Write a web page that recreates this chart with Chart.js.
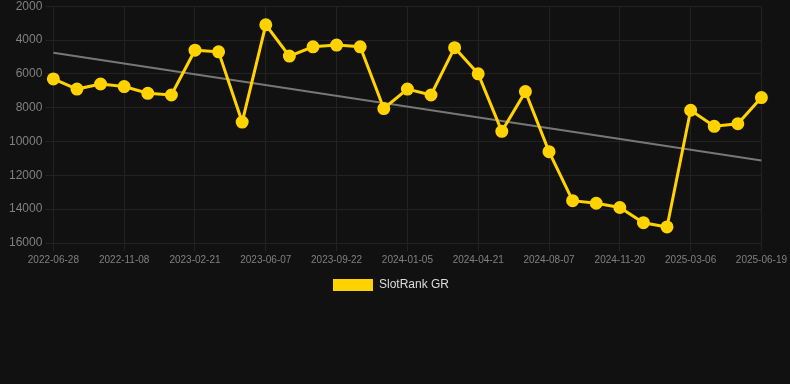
<!DOCTYPE html>
<html>
<head>
<meta charset="utf-8">
<script src="https://cdn.jsdelivr.net/npm/chart.js@4"></script>
<style>
    html, body { margin: 0; padding: 0; background: #111111; overflow: hidden; }
    #wrap { width: 790px; height: 305px; margin-top: -4px; }
</style>
</head>
<body>
<div id="wrap"><canvas id="rankChart"></canvas></div>
<script>
// Dates of each sample (only every 3rd is shown on the axis)
const dates = [
    '2022-06-28', '2022-08-11', '2022-09-24', '2022-11-08', '2022-12-13', '2023-01-17',
    '2023-02-21', '2023-03-28', '2023-05-03', '2023-06-07', '2023-07-13', '2023-08-17',
    '2023-09-22', '2023-10-27', '2023-12-01', '2024-01-05', '2024-02-10', '2024-03-16',
    '2024-04-21', '2024-05-27', '2024-07-02', '2024-08-07', '2024-09-11', '2024-10-16',
    '2024-11-20', '2024-12-25', '2025-01-29', '2025-03-06', '2025-04-10', '2025-05-15',
    '2025-06-19'
];

// Rank values
const ranks = [
    6300, 6900, 6600, 6750, 7150, 7250,
    4600, 4700, 8850, 3100, 4950, 4400,
    4300, 4400, 8050, 6900, 7250, 4450,
    6000, 9400, 7050, 10600, 13500, 13650,
    13900, 14800, 15050, 8150, 9100, 8950,
    7400
];

// Trend line end points (first and last sample)
const trendStart = 4750;
const trendEnd = 11120;

const yTicks = [2000, 4000, 6000, 8000, 10000, 12000, 14000, 16000];

const trend = dates.map((d, i) => i === 0 ? trendStart : (i === dates.length - 1 ? trendEnd : null));

document.addEventListener('DOMContentLoaded', function () {
    const ctx = document.getElementById('rankChart').getContext('2d');

    new Chart(ctx, {
        type: 'line',
        data: {
            labels: dates,
            datasets: [{
                label: 'SlotRank GR',
                data: ranks,
                borderColor: '#FFD200',
                backgroundColor: '#FFD200',
                pointBackgroundColor: '#FFD200',
                pointBorderColor: '#FFD200',
                borderWidth: 3,
                pointRadius: 5,
                tension: 0,
                order: 1
            }, {
                label: 'Trend',
                data: trend,
                borderColor: '#777777',
                borderWidth: 2,
                pointRadius: 0,
                spanGaps: true,
                tension: 0,
                order: 2
            }]
        },
        options: {
            responsive: true,
            maintainAspectRatio: false,
            animation: false,
            layout: {
                padding: { left: 6, right: 14, top: 0, bottom: 0 }
            },
            scales: {
                x: {
                    offset: false,
                    grid: {
                        color: function (c) {
                            return c.index % 3 === 0 ? '#222222' : 'transparent';
                        }
                    },
                    border: { display: false },
                    ticks: {
                        autoSkip: false,
                        maxRotation: 0,
                        color: '#808080',
                        font: { family: 'Liberation Sans', size: 10 },
                        callback: function (value, index) {
                            return index % 3 === 0 ? this.getLabelForValue(value) : '';
                        }
                    }
                },
                y: {
                    reverse: true,
                    min: yTicks[0],
                    max: yTicks[yTicks.length - 1],
                    afterBuildTicks: function (axis) {
                        axis.ticks = yTicks.map(v => ({ value: v }));
                    },
                    grid: { color: '#222222' },
                    border: { display: false },
                    ticks: {
                        color: '#808080',
                        font: { family: 'Liberation Sans', size: 12 },
                        callback: function (value) {
                            return String(value);
                        }
                    }
                }
            },
            plugins: {
                legend: {
                    position: 'bottom',
                    labels: {
                        boxWidth: 40,
                        boxHeight: 12,
                        color: '#dddddd',
                        font: { family: 'Liberation Sans', size: 12 },
                        generateLabels: function (chart) {
                            const items = Chart.defaults.plugins.legend.labels.generateLabels(chart);
                            return items
                                .filter(item => item.text !== 'Trend')
                                .map(item => Object.assign(item, { lineWidth: 0 }));
                        }
                    }
                },
                tooltip: { enabled: false }
            }
        }
    });
});
</script>
</body>
</html>
